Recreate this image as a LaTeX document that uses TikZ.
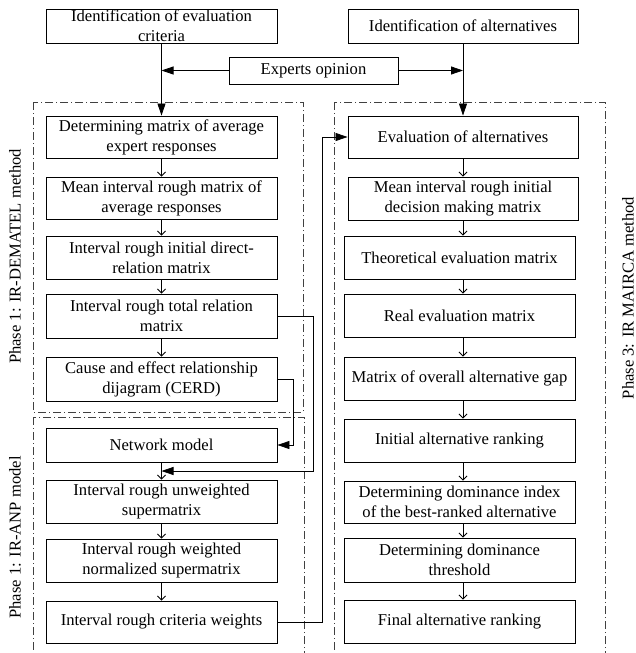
\documentclass[tikz,border=0pt]{standalone}
\usepackage{fontspec}
\setmainfont{Liberation Serif}
\usetikzlibrary{arrows.meta,calc}
\tikzset{
  box/.style={draw=black,line width=0.9pt,inner xsep=2pt,inner ysep=1pt,align=center,
    font=\fontsize{16.6}{20}\selectfont,minimum width=231pt},
  mainarrow/.style={line width=0.8pt,-{Triangle[length=12pt,width=8pt]}},
  thinarrow/.style={line width=0.8pt,-{Straight Barb[length=4pt,width=8pt]}},
  phasebox/.style={draw=black!75,line width=0.7pt,dash pattern=on 8pt off 3pt on 1pt off 3pt},
  phaselabel/.style={rotate=90,font=\fontsize{16.6}{20}\selectfont,inner sep=0pt}
}
\begin{document}
\begin{tikzpicture}[x=1pt,y=-1pt]
\useasboundingbox (0,0) rectangle (636,653);
\clip (0,0) rectangle (636,653);
% phase frames
\draw[phasebox] (33,102) rectangle (303,412);
\draw[phasebox] (33,417) rectangle (304,680);
\draw[phasebox] (334,102) rectangle (605,680);
% top boxes
\node[box,minimum height=34pt,
  label={[font=\fontsize{16.6}{20}\selectfont,align=center]center:Identification of evaluation\\criteria}] (crit) at (161.5,26) {};
\node[box,minimum width=169pt,minimum height=27pt] (exp) at (313.5,70.5) {Experts opinion};
\node[box,minimum width=230pt,minimum height=34pt] (alt) at (463,26) {Identification of alternatives};
% left column
\node[box,minimum height=42pt] (b1) at (161.5,137) {Determining matrix of average\\expert responses};
\node[box,minimum height=42pt] (b2) at (161.5,198) {Mean interval rough matrix of\\average responses};
\node[box,minimum height=43pt] (b3) at (161.5,257.5) {Interval rough initial direct-\\relation matrix};
\node[box,minimum height=44pt] (b4) at (161.5,316) {Interval rough total relation\\matrix};
\node[box,minimum height=44pt] (b5) at (161.5,379) {Cause and effect relationship\\dijagram (CERD)};
\node[box,minimum height=34pt] (b6) at (161.5,445) {Network model};
\node[box,minimum height=43pt] (b7) at (161.5,501.5) {Interval rough unweighted\\supermatrix};
\node[box,minimum height=43pt] (b8) at (161.5,560.5) {Interval rough weighted\\normalized supermatrix};
\node[box,minimum height=42pt] (b9) at (161.5,622) {Interval rough criteria weights};
% right column
\node[box,minimum width=230pt,minimum height=42pt] (r1) at (463,137) {Evaluation of alternatives};
\node[box,minimum width=230pt,minimum height=43pt] (r2) at (463,198.5) {Mean interval rough initial\\decision making matrix};
\node[box,minimum height=43pt] (r3) at (459.5,257.5) {Theoretical evaluation matrix};
\node[box,minimum height=43pt] (r4) at (459.5,315.5) {Real evaluation matrix};
\node[box,minimum height=43pt] (r5) at (459.5,378.5) {Matrix of overall alternative gap};
\node[box,minimum height=43pt] (r6) at (459.5,440.5) {Initial alternative ranking};
\node[box,minimum height=42pt] (r7) at (459.5,502) {Determining dominance index\\of the best-ranked alternative};
\node[box,minimum height=44pt] (r8) at (459.5,560) {Determining dominance\\threshold};
\node[box,minimum height=43pt] (r9) at (459.5,621.5) {Final alternative ranking};
% phase labels
\node[phaselabel] (p1) at (15,256.5) {Phase 1: IR-DEMATEL method};
\node[phaselabel] (p2) at (15,537.5) {Phase 1: IR-ANP model};
\node[phaselabel] (p3) at (628,298) {Phase 3: IR MAIRCA method};
% main connectors
\draw[mainarrow] (crit.south) -- (b1.north);
\draw[mainarrow] (exp.west) -- (exp.west -| crit.south);
\draw[mainarrow] (alt.south) -- (r1.north);
\draw[mainarrow] (exp.east) -- (exp.east -| alt.south);
% left chain
\draw[thinarrow] (b1.south) -- (b2.north);
\draw[thinarrow] (b2.south) -- (b3.north);
\draw[thinarrow] (b3.south) -- (b4.north);
\draw[thinarrow] (b4.south) -- (b5.north);
\draw[thinarrow] (b6.south) -- (b7.north);
\draw[thinarrow] (b7.south) -- (b8.north);
\draw[thinarrow] (b8.south) -- (b9.north);
\draw[mainarrow] (b5.east) -- ++(16,0) |- (b6.east);
\draw[mainarrow] (b4.east) -- ++(36,0) |- ($(b6.south)!0.5!(b7.north)$);
\draw[mainarrow] (b9.east) -- ++(45,0) |- (r1.west);
% right chain
\draw[thinarrow] (r1.south) -- (r2.north);
\draw[thinarrow] (r2.south) -- (r3.north -| r2.south);
\draw[thinarrow] (r3.south -| r2.south) -- (r4.north -| r2.south);
\draw[thinarrow] (r4.south -| r2.south) -- (r5.north -| r2.south);
\draw[thinarrow] (r5.south -| r2.south) -- (r6.north -| r2.south);
\draw[thinarrow] (r6.south -| r2.south) -- (r7.north -| r2.south);
\draw[thinarrow] (r7.south -| r2.south) -- (r8.north -| r2.south);
\draw[thinarrow] (r8.south -| r2.south) -- (r9.north -| r2.south);
\end{tikzpicture}
\end{document}
